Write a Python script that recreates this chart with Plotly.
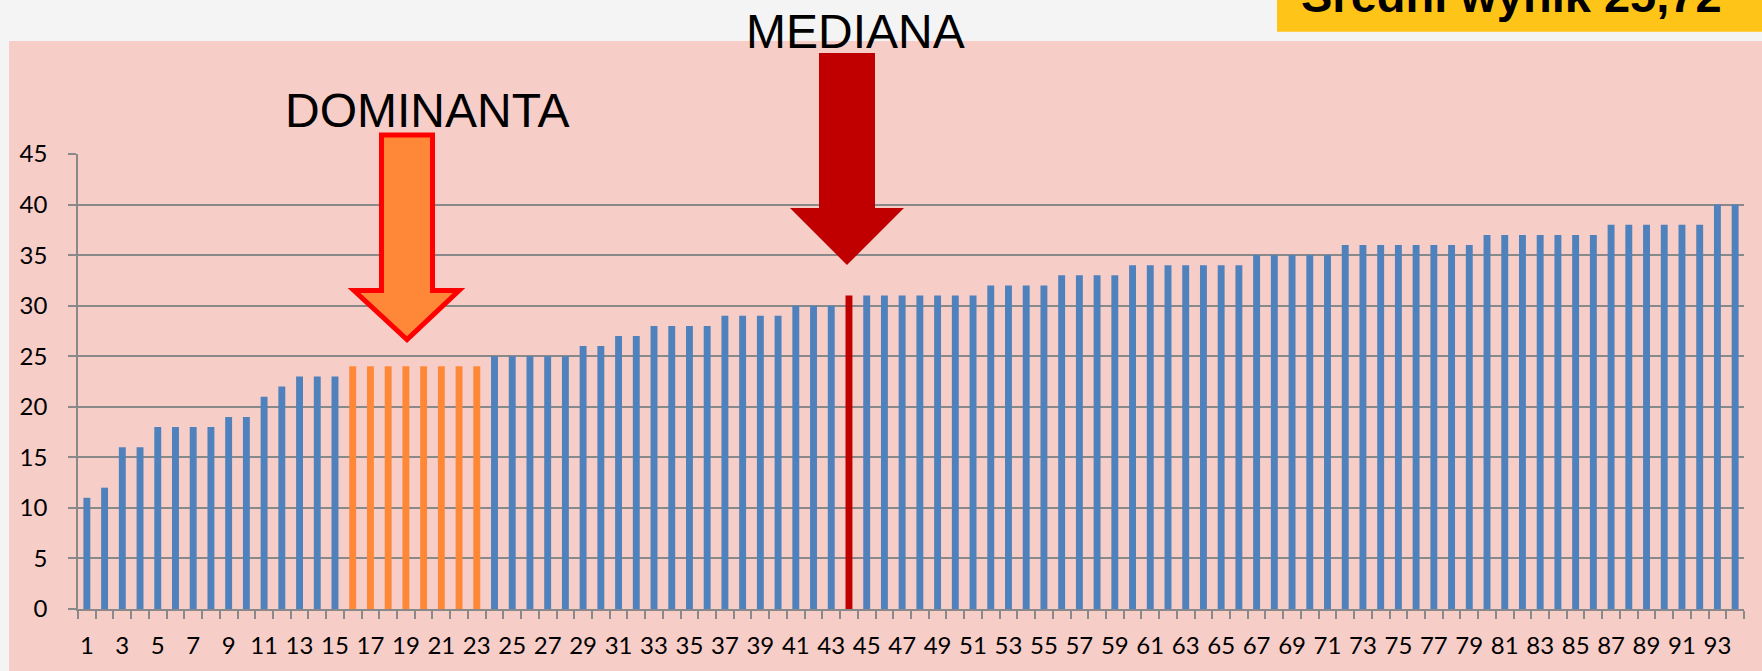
import plotly.graph_objects as go

# ---------------- data ----------------
positions = list(range(1, 95))
scores = [11, 12, 16, 16, 18, 18, 18, 18, 19, 19,
          21, 22, 23, 23, 23, 24, 24, 24, 24, 24,
          24, 24, 24, 25, 25, 25, 25, 25, 26, 26,
          27, 27, 28, 28, 28, 28, 29, 29, 29, 29,
          30, 30, 30, 31, 31, 31, 31, 31, 31, 31,
          31, 32, 32, 32, 32, 33, 33, 33, 33, 34,
          34, 34, 34, 34, 34, 34, 35, 35, 35, 35,
          35, 36, 36, 36, 36, 36, 36, 36, 36, 37,
          37, 37, 37, 37, 37, 37, 38, 38, 38, 38,
          38, 38, 40, 40]
dominanta_positions = [16, 17, 18, 19, 20, 21, 22, 23]
mediana_position = 44
x_tick_labels = list(range(1, 95, 2))
y_ticks = list(range(0, 50, 5))

BLUE = "#4F81BD"
ORANGE = "#FF8838"
DARKRED = "#C00000"
colors = []
for p in positions:
    if p == mediana_position:
        colors.append(DARKRED)
    elif p in dominanta_positions:
        colors.append(ORANGE)
    else:
        colors.append(BLUE)

W, H = 1762, 671
ML, MR, MT, MB = 78, 18, 154, 62
PW = W - ML - MR
PH = H - MT - MB


def px(xp):
    return (xp - ML) / PW


def py(yp):
    return (H - MB - yp) / PH


fig = go.Figure()
fig.add_trace(go.Bar(x=positions, y=scores, marker=dict(color=colors, line=dict(width=0)),
                     showlegend=False, hoverinfo="x+y"))

GRID = "#898989"
TICKFONT = dict(family="Lato", size=24, color="#000000")
fig.update_layout(
    width=W, height=H,
    margin=dict(l=ML, r=MR, t=MT, b=MB, autoexpand=False),
    paper_bgcolor="#F4F4F4",
    plot_bgcolor="rgba(0,0,0,0)",
    bargap=0.61,
    font=dict(family="Lato", size=24, color="#000000"),
    xaxis=dict(
        range=[0.5, 94.5], automargin=False,
        tickmode="array", tickvals=x_tick_labels, ticktext=[str(v) for v in x_tick_labels],
        tickfont=TICKFONT,
        ticks="", showgrid=False, zeroline=False,
        showline=True, linecolor=GRID, linewidth=1.5,
        ticklabelstandoff=14,
        minor=dict(tickmode="array", tickvals=[i + 0.5 for i in range(0, 95)],
                   ticks="outside", ticklen=8, tickwidth=1.5, tickcolor=GRID, showgrid=False),
    ),
    yaxis=dict(
        range=[0, 45], tickmode="array", tickvals=y_ticks, automargin=False,
        tickfont=TICKFONT,
        showgrid=True, gridcolor=GRID, gridwidth=1.5,
        zeroline=False, showline=True, linecolor=GRID, linewidth=1.5,
        ticks="outside", ticklen=8, tickwidth=1.5, tickcolor=GRID,
        ticklabelstandoff=16,
    ),
)

# pink chart background
fig.add_shape(type="rect", xref="paper", yref="paper",
              x0=px(9), x1=px(W + 5), y0=py(41), y1=py(H + 5),
              fillcolor="#F7CDC8", line=dict(width=0), layer="below")
# yellow box top-right
fig.add_shape(type="rect", xref="paper", yref="paper",
              x0=px(1277), x1=px(W + 5), y0=py(31.7), y1=py(-10),
              fillcolor="#FFC418", line=dict(width=0), layer="below")


def path_from(points):
    s = "M " + " L ".join(f"{px(a):.5f},{py(b):.5f}" for a, b in points) + " Z"
    return s


# DOMINANTA arrow (orange with red outline)
dom_pts = [(381.5, 135), (432.5, 135), (432.5, 290.5), (459, 290.5), (407, 339.5),
           (354, 290.5), (381.5, 290.5)]
fig.add_shape(type="path", xref="paper", yref="paper", path=path_from(dom_pts),
              fillcolor=ORANGE, line=dict(color="#FF0000", width=5), layer="above")

# MEDIANA arrow (dark red)
med_pts = [(819, 53), (875, 53), (875, 208), (904, 208), (847, 265), (790, 208), (819, 208)]
fig.add_shape(type="path", xref="paper", yref="paper", path=path_from(med_pts),
              fillcolor=DARKRED, line=dict(width=0), layer="above")

fig.add_annotation(text="DOMINANTA", xref="paper", yref="paper", x=px(427), y=py(110.8),
                   xanchor="center", yanchor="middle", showarrow=False,
                   font=dict(family="Liberation Sans", size=48, color="#000000"))
fig.add_annotation(text="MEDIANA", xref="paper", yref="paper", x=px(855.5), y=py(31.3),
                   xanchor="center", yanchor="middle", showarrow=False,
                   font=dict(family="Liberation Sans", size=48, color="#000000"))
fig.add_annotation(text="<b>Średni wynik 25,72</b>", xref="paper", yref="paper",
                   x=px(1511.5), y=py(-4.8),
                   xanchor="center", yanchor="middle", showarrow=False,
                   font=dict(family="Liberation Sans", size=47, color="#000000"))

fig.write_html("out.html", config={"displayModeBar": False},
               post_script="document.body.style.margin='0';")
